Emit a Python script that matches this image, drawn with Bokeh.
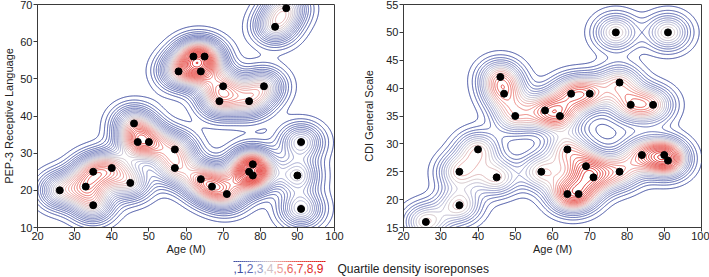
import numpy as np
from bokeh.plotting import figure
from bokeh.layouts import column, row
from bokeh.models import Range1d, FixedTicker
from bokeh.core.properties import value
from bokeh.embed import file_html
from bokeh.resources import INLINE

# ---- data ----
pep_age = [26, 33, 35, 35, 40, 45, 46, 47, 50, 57, 57, 64, 67, 71, 77, 78, 78, 91, 90, 91,
           58, 62, 65, 64, 70, 69, 77, 81, 84, 87]
pep_score = [20, 21, 25, 16, 26, 22, 38, 33, 33, 31, 26, 23, 21, 19, 25, 24, 27, 33, 24, 15,
             52, 56, 56, 52, 48, 44, 44, 48, 64, 69]
cdi_age = [26, 35, 35, 40, 45, 46, 47, 50, 58, 62, 65, 70, 78, 81, 87, 77, 91,
           64, 57, 69, 71, 64, 67, 78, 84, 90, 91]
cdi_score = [16, 19, 25, 29, 24, 42, 39, 35, 36, 35, 39, 39, 41, 37, 37, 50, 50,
             29, 25, 26, 24, 21, 21, 25, 28, 28, 27]
x_ticks = [20, 30, 40, 50, 60, 70, 80, 90, 100]
pep_ticks = [10, 20, 30, 40, 50, 60, 70]
cdi_ticks = [15, 20, 25, 30, 35, 40, 45, 50, 55]
legend_labels = [",1", ",2", ",3", ",4", ",5", ",6", ",7", ",8", ",9"]
legend_title = "Quartile density isoreponses"

FONT = "Liberation Sans"
AX = "#3a3a3a"

anchors = [(0.0, (0x3d, 0x4b, 0x9f)), (0.15, (0x60, 0x6c, 0xb4)), (0.3, (0xb0, 0xb2, 0xd2)),
           (0.38, (0xd2, 0xc4, 0xc8)), (0.5, (0xec, 0xa0, 0x9c)), (0.65, (0xe8, 0x5c, 0x54)),
           (1.0, (0xdc, 0x16, 0x16))]


def cmap(t):
    for (t0, c0), (t1, c1) in zip(anchors[:-1], anchors[1:]):
        if t <= t1:
            f = (t - t0) / (t1 - t0) if t1 > t0 else 0
            c = [int(round(a + (b - a) * f)) for a, b in zip(c0, c1)]
            return "#%02x%02x%02x" % tuple(c)
    return "#%02x%02x%02x" % anchors[-1][1]


def density(xs, ys, gx, gy, sx, sy):
    X, Y = np.meshgrid(gx, gy)
    Z = np.zeros_like(X)
    for xi, yi in zip(xs, ys):
        Z += np.exp(-0.5 * (((X - xi) / sx) ** 2 + ((Y - yi) / sy) ** 2))
    return Z


def panel(xs, ys, yr, yticks, ylabel, sx, sy, step, width, bl, br, lab_standoff):
    p = figure(width=width, height=257, output_backend="svg", toolbar_location=None,
               x_range=Range1d(20, 100), y_range=Range1d(*yr),
               min_border_left=bl, min_border_right=br, min_border_top=4, min_border_bottom=29)
    gx = np.linspace(20, 100, 401)
    gy = np.linspace(yr[0], yr[1], 301)
    Z = density(xs, ys, gx, gy, sx, sy)
    levels = list(np.arange(step, Z.max(), step))
    n = len(levels)
    colors = [cmap(i / (n - 1)) for i in range(n)]
    p.contour(gx, gy, Z, levels, line_color=colors, line_width=1.0)
    p.scatter(xs, ys, size=7, color="black")
    p.grid.visible = False
    p.outline_line_color = AX
    p.outline_line_width = 1
    p.xaxis.ticker = FixedTicker(ticks=x_ticks)
    p.yaxis.ticker = FixedTicker(ticks=yticks)
    p.xaxis.axis_label = "Age (M)"
    p.yaxis.axis_label = ylabel
    for ax in (p.xaxis, p.yaxis):
        ax.axis_line_color = AX
        ax.major_tick_line_color = AX
        ax.major_tick_in = 0
        ax.major_tick_out = 4
        ax.minor_tick_line_color = None
        ax.major_label_standoff = 1
        ax.major_label_text_font = FONT
        ax.major_label_text_font_size = "11px"
        ax.major_label_text_color = "#222222"
        ax.axis_label_text_font = FONT
        ax.axis_label_text_font_size = "11px"
        ax.axis_label_text_font_style = "normal"
        ax.axis_label_text_color = "#222222"
    p.xaxis.major_label_standoff = 0
    p.xaxis.axis_label_standoff = 0
    p.yaxis.axis_label_standoff = lab_standoff
    p.background_fill_color = "white"
    p.border_fill_color = "white"
    return p


p1 = panel(pep_age, pep_score, (10, 70), pep_ticks, "PEP-3 Receptive Language",
           3.9, 3.3, 1 / 12.0, 355, 36, 21, 2)
p2 = panel(cdi_age, cdi_score, (15, 55), cdi_ticks, "CDI General Scale",
           3.9, 2.2, 1 / 10.0, 354, 48, 8, 8)

# legend strip
lg = figure(width=709, height=20, output_backend="svg", toolbar_location=None,
            x_range=Range1d(0, 709), y_range=Range1d(0, 20),
            min_border=0, x_axis_location=None, y_axis_location=None)
lg.grid.visible = False
lg.outline_line_color = None
x0 = 233
w = 10.0
lx = [x0 + i * w for i in range(len(legend_labels))]
lcol = [cmap(i / (len(legend_labels) - 1)) for i in range(len(legend_labels))]
lg.text(lx, [9] * len(lx), text=legend_labels, text_color=lcol, text_font=value(FONT),
        text_font_size="12px", text_baseline="middle", text_align="left")
nseg = 46
sx0 = np.linspace(x0, x0 + 92, nseg + 1)
lg.segment(sx0[:-1], [16] * nseg, sx0[1:], [16] * nseg,
           line_color=[cmap(i / (nseg - 1)) for i in range(nseg)], line_width=1)
lg.text([337], [9], text=[legend_title], text_color="#222222", text_font=value(FONT),
        text_font_size="12px", text_baseline="middle", text_align="left")

layout = column(row(p1, p2, spacing=0), lg, spacing=0)
open("out.html", "w").write(file_html(layout, INLINE))
